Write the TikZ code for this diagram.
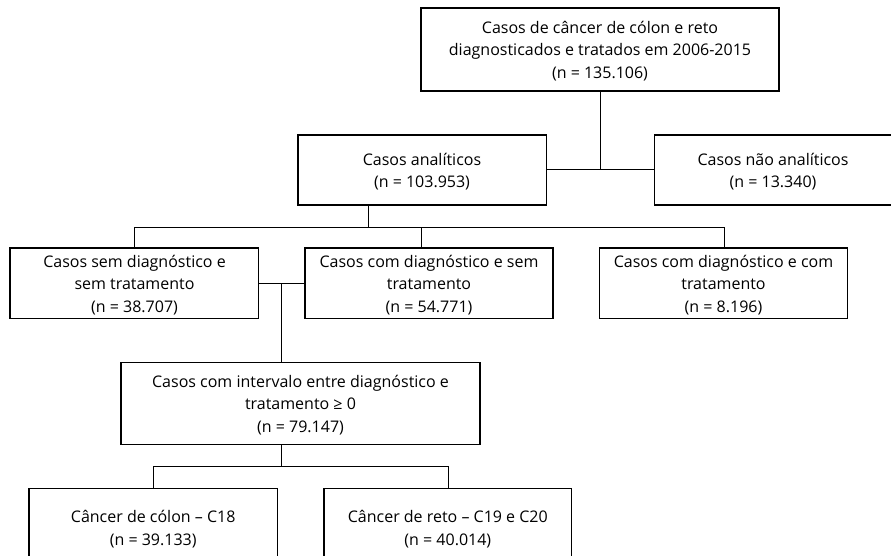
\documentclass[tikz,border=0pt]{standalone}
\usepackage{fontspec}
\setmainfont{Open Sans}
\begin{document}
\begin{tikzpicture}[x=1pt,y=-1pt,
  boxst/.style={draw=black,line width=1.1pt,inner sep=0pt},
  lbl/.style={font=\fontsize{16}{22.5}\selectfont,align=center,inner sep=0pt,yshift=-1.5pt},
  conn/.style={draw=black,line width=1pt}]
\clip (0,0) rectangle (891,556);
% boxes
\draw[boxst] (421,8) rectangle (779,91);
\node[lbl] (top) at (600,49.5) {Casos de câncer de cólon e reto\\diagnosticados e tratados em 2006-2015\\(n = 135.106)};
\draw[boxst] (298,135) rectangle (546.5,205);
\node[lbl] (anal) at (422,170) {Casos analíticos\\(n = 103.953)};
\draw[boxst] (654.5,135) rectangle (905,205);
\node[lbl] (nanal) at (773,170) {Casos não analíticos\\(n = 13.340)};
\draw[boxst] (10,248) rectangle (258.5,318.5);
\node[lbl] (semsem) at (134.5,283.3) {Casos sem diagnóstico e\\sem tratamento\\(n = 38.707)};
\draw[boxst] (305,248) rectangle (553,318.5);
\node[lbl] (comsem) at (429,283.3) {Casos com diagnóstico e sem\\tratamento\\(n = 54.771)};
\draw[boxst] (599.5,248) rectangle (847.5,318.5);
\node[lbl] (comcom) at (723.5,283.3) {Casos com diagnóstico e com\\tratamento\\(n = 8.196)};
\draw[boxst] (121,362.3) rectangle (480,444.7);
\node[lbl] (interv) at (300.5,403.5) {Casos com intervalo entre diagnóstico e\\tratamento ≥ 0\\(n = 79.147)};
\draw[boxst] (29,488.7) rectangle (277.3,566);
\node[lbl] (colon) at (153.2,527.5) {Câncer de cólon – C18\\(n = 39.133)};
\draw[boxst] (324,488.7) rectangle (571.6,566);
\node[lbl] (reto) at (447.8,527.5) {Câncer de reto – C19 e C20\\(n = 40.014)};
% connectors
\coordinate (j1) at (600.6,170);
\draw[conn] (600.6,91) -- (j1);
\draw[conn] (546.5,170) -- (654.5,170);
\draw[conn] (368,205) -- (368,227);
\draw[conn] (134.7,248) -- (134.7,227) -- (724,227) -- (724,248);
\draw[conn] (421.6,227) -- (421.6,248);
\draw[conn] (258.5,283.3) -- (305,283.3);
\draw[conn] (281.8,283.3) -- (281.8,362.3);
\draw[conn] (281.8,444.7) -- (281.8,466.7);
\draw[conn] (153.4,488.7) -- (153.4,466.7) -- (448.3,466.7) -- (448.3,488.7);
\end{tikzpicture}
\end{document}
